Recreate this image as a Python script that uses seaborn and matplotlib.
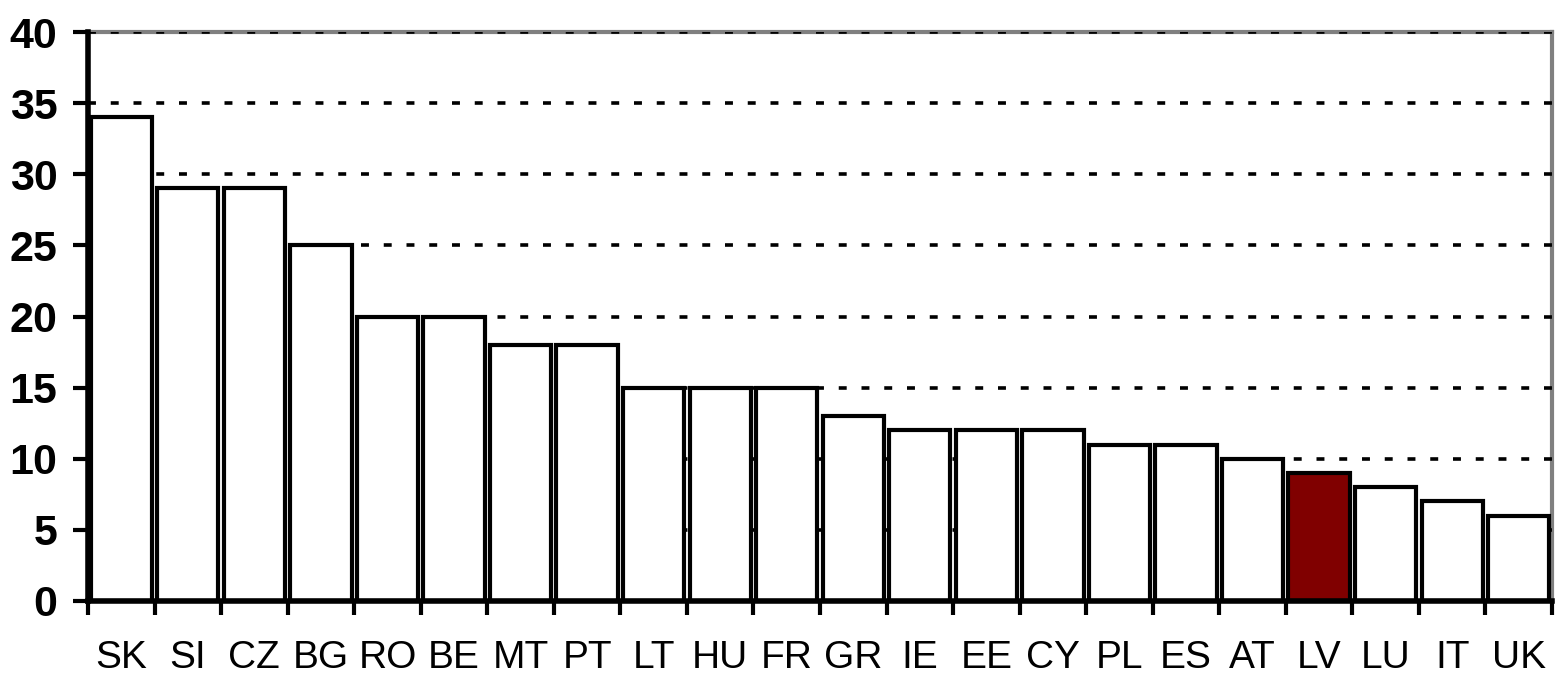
import matplotlib
matplotlib.use("Agg")
import matplotlib.pyplot as plt
import seaborn as sns
import pandas as pd
import numpy as np

countries = ["SK", "SI", "CZ", "BG", "RO", "BE", "MT", "PT", "LT", "HU", "FR",
             "GR", "IE", "EE", "CY", "PL", "ES", "AT", "LV", "LU", "IT", "UK"]
values = [34, 29, 29, 25, 20, 20, 18, 18, 15, 15, 15,
          13, 12, 12, 12, 11, 11, 10, 9, 8, 7, 6]
highlight = "LV"
yticks = [0, 5, 10, 15, 20, 25, 30, 35, 40]

sns.set_style("white")
plt.rcParams['font.family'] = ['Liberation Sans', 'DejaVu Sans']
plt.rcParams['text.color'] = 'black'
plt.rcParams['xtick.color'] = 'black'
plt.rcParams['ytick.color'] = 'black'

df = pd.DataFrame({"country": countries, "value": values})
colors = ["#800000" if c == highlight else "#ffffff" for c in countries]

fig = plt.figure(figsize=(15.56, 6.78), dpi=100)
ax = fig.add_axes([88 / 1556, 1 - 601 / 678, (1552 - 88) / 1556, (601 - 32) / 678])

sns.barplot(data=df, x="country", y="value", hue="country", palette=colors,
            legend=False, width=0.92, edgecolor="black", linewidth=3,
            saturation=1, ax=ax, zorder=3)

ax.set_xlim(-0.5, len(countries) - 0.5)
ax.set_ylim(0, 40)
ax.set_yticks(yticks)
ax.set_yticklabels([str(t) for t in yticks], fontsize=31, fontweight="bold")
for t in yticks[1:]:
    ax.axhline(t, color="black", linestyle=(0, (2.2, 4.1)), linewidth=2.6, zorder=1)

ax.set_xticks(np.arange(len(countries)))
ax.set_xticklabels(countries, fontsize=28)
ax.tick_params(axis="x", which="major", bottom=True, length=0, pad=28, labelcolor="black")
ax.set_xticks(np.arange(len(countries) + 1) - 0.5, minor=True)
ax.tick_params(axis="x", which="minor", bottom=True, length=10, width=3,
               direction="out", color="black")
ax.tick_params(axis="y", left=True, length=11, width=3, direction="out",
               color="black", pad=11, labelcolor="black")
ax.set_xlabel("")
ax.set_ylabel("")

for side in ["left", "bottom"]:
    ax.spines[side].set_color("black")
    ax.spines[side].set_linewidth(4)
    ax.spines[side].set_zorder(5)
for side in ["top", "right"]:
    ax.spines[side].set_visible(True)
    ax.spines[side].set_color("#808080")
    ax.spines[side].set_linewidth(3)
    ax.spines[side].set_zorder(0)

fig.savefig("out.png", dpi=100)
